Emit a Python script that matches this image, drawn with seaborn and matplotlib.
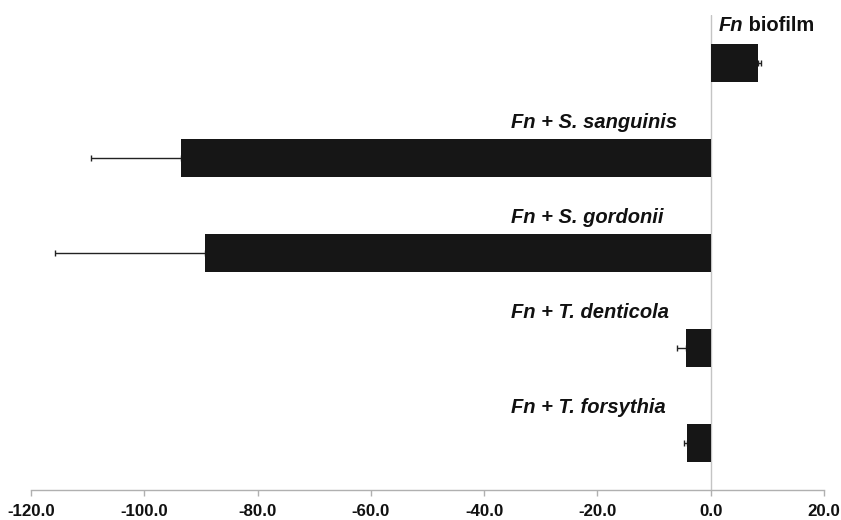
import matplotlib
matplotlib.use("Agg")
import matplotlib.pyplot as plt
import seaborn as sns
import numpy as np
import pandas as pd

# ---- data ----
categories = ["Fn biofilm", "Fn + S. sanguinis", "Fn + S. gordonii",
              "Fn + T. denticola", "Fn + T. forsythia"]
values = [8.4, -93.5, -89.2, -4.4, -4.2]
errors = [0.4, 15.9, 26.6, 1.6, 0.5]
xticks = [-120.0, -100.0, -80.0, -60.0, -40.0, -20.0, 0.0, 20.0]

sns.set_theme(style="white")
plt.rcParams['font.family'] = ['Liberation Sans', 'DejaVu Sans']

fig = plt.figure(figsize=(8.41, 5.2), dpi=100)
ax = fig.add_axes([31 / 841, 1 - 490 / 520, (824 - 31) / 841, (490 - 15) / 520])

df = pd.DataFrame({"cat": categories, "val": values})
sns.barplot(data=df, x="val", y="cat", orient="h", color="#161616",
            saturation=1, width=0.4, errorbar=None, ax=ax, zorder=3,
            edgecolor="#161616", linewidth=0)

# one-sided error bars (away from zero)
vals = np.array(values)
errs = np.array(errors)
lower = np.where(vals < 0, errs, 0)
upper = np.where(vals >= 0, errs, 0)
ax.errorbar(vals, np.arange(len(vals)), xerr=[lower, upper], fmt="none",
            ecolor="#222222", elinewidth=1.0, capsize=2.5, capthick=1.0, zorder=2)

ax.set_xlim(-120, 20)
ax.set_ylim(len(categories) - 0.5, -0.5)
ax.axvline(0, color="#c4c4c4", lw=1.0, zorder=1)

ax.set_xticks(xticks)
ax.set_xticklabels([f"{t:.1f}" for t in xticks], fontweight="bold", fontsize=12.2,
                   color="#111111")
ax.tick_params(axis="x", direction="out", length=4, width=1, color="#b0b0b0", pad=6,
               bottom=True)
ax.set_yticks([])
ax.set_xlabel("")
ax.set_ylabel("")
for s in ["top", "right", "left"]:
    ax.spines[s].set_visible(False)
ax.spines["bottom"].set_color("#b0b0b0")
ax.spines["bottom"].set_linewidth(1.0)

lab_fs = 14.5
for i, c in enumerate(categories):
    if c == "Fn biofilm":
        t = ax.text(1.45, i - 0.39, "Fn", fontsize=lab_fs, fontweight="bold",
                    fontstyle="italic", ha="left", va="center", color="#111111")
        ax.annotate(" biofilm", xy=(1, 0), xycoords=t, ha="left", va="bottom",
                    fontsize=lab_fs, fontweight="bold", color="#111111")
    else:
        ax.text(-35.3, i - 0.37, c, fontsize=lab_fs, fontweight="bold",
                fontstyle="italic", ha="left", va="center", color="#111111")

fig.savefig("out.png", dpi=100)
